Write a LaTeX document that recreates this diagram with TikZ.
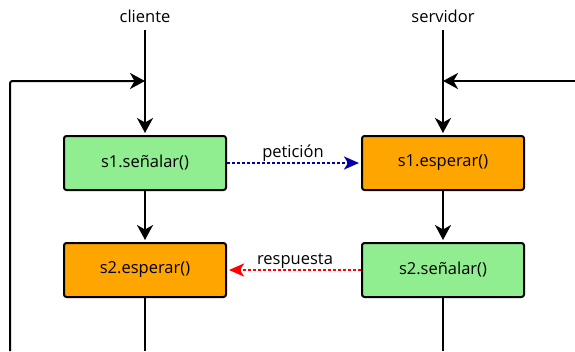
\documentclass[tikz,border=0pt]{standalone}
\usepackage{fontspec}
\setmainfont{Open Sans}
\usepackage{tikz}
\usetikzlibrary{%
arrows.meta,
calc,
positioning
}
\definecolor{verdeclaro}{RGB}{144,238,144}
\definecolor{naranja}{RGB}{255,165,0}
\definecolor{azulosc}{RGB}{0,0,170}

\begin{document}
\begin{tikzpicture}[x=1pt,y=-1pt,
        font=\fontsize{16.5}{19}\selectfont,
        proceso/.style={draw,line width=2pt,rounded corners=2.5pt,minimum width=162pt,minimum height=54pt},
        flujo/.style={line width=2pt,-{Stealth[length=15pt,width=16pt,inset=4.5pt]}},
        linea/.style={line width=2pt},
        punteado/.style={line width=2.6pt,dash pattern=on 2.6pt off 2.4pt,-{Stealth[length=15pt,width=13pt,inset=4pt]}}]
\useasboundingbox (0,0) rectangle (575,351);
        % etiquetas de los procesos
        \node (cli) at (145,16) {cliente};
        \node (srv) at (443,16) {servidor};
        % cajas
        \node[proceso,fill=verdeclaro] (csen) at (145,163) {s1.señalar()};
        \node[proceso,fill=naranja] (cesp) at (145,270) {s2.esperar()};
        \node[proceso,fill=naranja] (sesp) at (443,163) {s1.esperar()};
        \node[proceso,fill=verdeclaro] (ssen) at (443,270) {s2.señalar()};
        % puntos de los bucles
        \coordinate (ctop) at (145,30);
        \coordinate (cin) at (145,81);
        \coordinate (cvue) at (10,81);
        \coordinate (cbaj) at (10,351);
        \coordinate (cfin) at (145,351);
        \coordinate (stop) at (443,30);
        \coordinate (sin) at (443,81);
        \coordinate (svue) at (575,81);
        \coordinate (sfin) at (443,351);
        % cliente
        \draw[linea] (ctop) -- (cin);
        \draw[flujo,shorten >=2pt] (cin) -- (csen);
        \draw[flujo,rounded corners=2.5pt] (cbaj) -- (cvue) -- (cin);
        \draw[flujo,shorten >=2pt] (csen) -- (cesp);
        \draw[linea] (cesp) -- (cfin);
        % servidor
        \draw[linea] (stop) -- (sin);
        \draw[flujo,shorten >=2pt] (sin) -- (sesp);
        \draw[flujo] (svue) -- (sin);
        \draw[flujo,shorten >=2pt] (sesp) -- (ssen);
        \draw[linea] (ssen) -- (sfin);
        % mensajes
        \draw[punteado,azulosc] (csen) -- node[above=-3pt,black] {petición} ([xshift=-2pt]sesp.west);
        \draw[punteado,red] (ssen) -- node[above=-3pt,black] {respuesta} ([xshift=2pt]cesp.east);
\end{tikzpicture}
\end{document}
